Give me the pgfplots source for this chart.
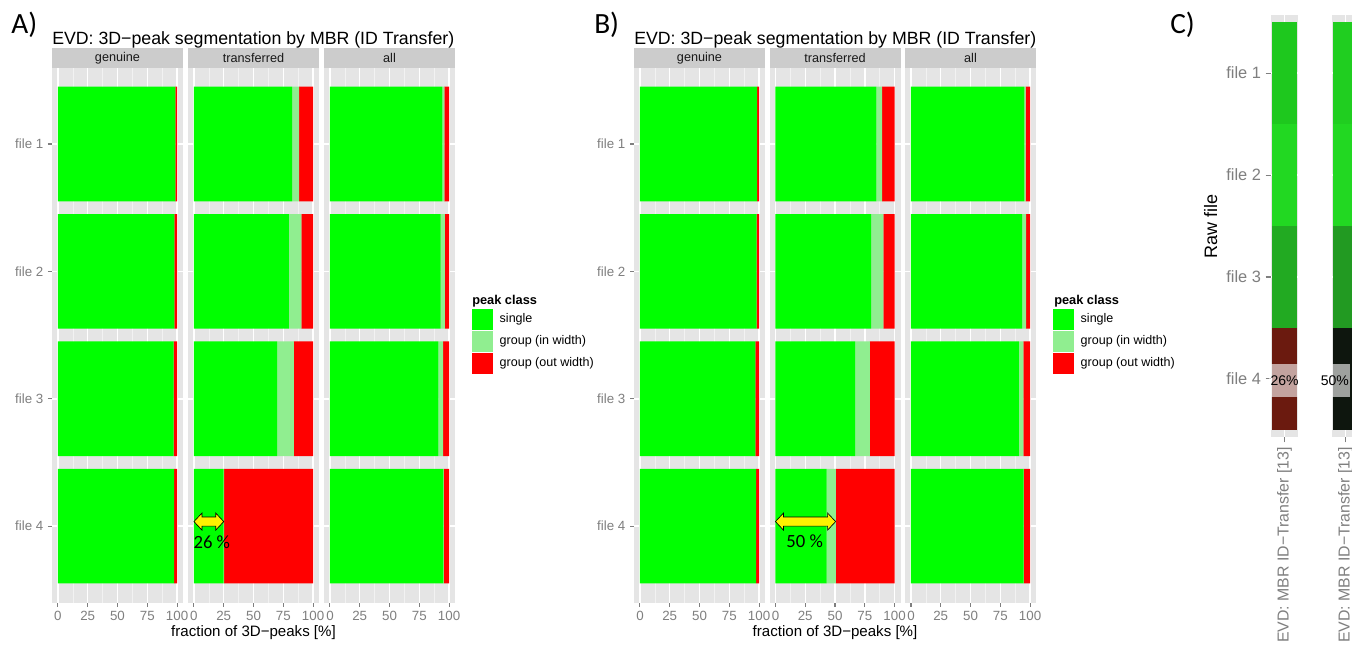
\documentclass[border=0pt]{standalone}
\usepackage{pgfplots}
\pgfplotsset{compat=1.18}
\usepackage{pgfplotstable}
\usetikzlibrary{calc}
\usepackage{fontspec}
\setmainfont{Liberation Sans}
\newfontfamily\calib{Carlito}
\def\uu{0.75pt}
\definecolor{panelbg}{HTML}{E5E5E5}
\definecolor{stripbg}{HTML}{CCCCCC}
\definecolor{gridminor}{HTML}{F2F2F2}
\definecolor{tickgray}{HTML}{7F7F7F}
\definecolor{cSingle}{HTML}{00FF00}
\definecolor{cIn}{HTML}{90EE90}
\definecolor{cOut}{HTML}{FF0000}
\definecolor{ca1}{HTML}{1EC81E}
\definecolor{ca2}{HTML}{22D822}
\definecolor{ca3}{HTML}{22AA22}
\definecolor{ca4}{HTML}{6B1A0F}
\definecolor{cb1}{HTML}{20CE20}
\definecolor{cb2}{HTML}{22D822}
\definecolor{cb3}{HTML}{229A22}
\definecolor{cb4}{HTML}{0E160E}

% y: 4=file 1 ... 1=file 4 ; s=single, i=group (in width), o=group (out width)
\pgfplotstableread{
y s i o
4 98.5 0 1.5
3 97.8 0 2.2
2 97.2 0 2.8
1 97.5 0 2.5
}\AG
\pgfplotstableread{
y s i o
4 82.4 5.9 11.7
3 79.6 10.6 9.8
2 69.8 14.0 16.2
1 25.0 0.3 74.7
}\AT
\pgfplotstableread{
y s i o
4 94.4 1.7 3.9
3 93.0 3.4 3.6
2 91.1 3.9 5.0
1 95.3 0.3 4.4
}\AA
\pgfplotstableread{
y s i o
4 98.3 0 1.7
3 98.0 0 2.0
2 96.9 0 3.1
1 97.5 0 2.5
}\BG
\pgfplotstableread{
y s i o
4 84.8 4.8 10.4
3 80.3 10.4 9.3
2 66.9 12.3 20.8
1 43.0 7.8 49.2
}\BT
\pgfplotstableread{
y s i o
4 95.2 1.1 3.7
3 93.3 3.3 3.4
2 90.7 3.7 5.6
1 94.7 0.2 5.1
}\BA

\pgfplotsset{
  panel/.style={
    anchor=north west, scale only axis, width=131*\uu, height=535*\uu,
    xbar stacked, bar width=0.9,
    xmin=-5, xmax=105, ymin=0.4, ymax=4.6,
    xtick={0,25,50,75,100}, minor xtick={12.5,37.5,62.5,87.5},
    ytick={1,2,3,4}, yticklabels={},
    grid=both,
    major grid style={white, line width=1.1pt},
    minor grid style={gridminor, line width=0.5pt},
    axis line style={draw=none},
    axis background/.style={fill=panelbg},
    tick align=outside, major tick length=3pt, minor tick length=0pt,
    tick pos=left,
    xtick style={tickgray, line width=0.8pt},
    ytick style={draw=none},
    tick label style={font=\fontsize{10}{11}\selectfont, text=tickgray},
    xticklabel style={inner xsep=0.5pt},
    /pgf/number format/assume math mode=true,
  },
  leftpanel/.style={yticklabels={file 4,file 3,file 2,file 1},
    ytick style={draw=tickgray, line width=0.8pt}},
  sqlegend/.style={legend image code/.code={\fill[##1] (0pt,-7.875pt) rectangle (15.75pt,7.875pt);}},
  legpanel/.style={
    legend style={at={(1.13,0.5495)}, anchor=north west, draw=none, fill=none,
      inner sep=0pt, row sep=0.75pt, column sep=4.5pt,
      font=\fontsize{9.4}{10}\selectfont, nodes={inner sep=0.3pt}},
    legend cell align=left},
  cpanel/.style={
    anchor=north west, scale only axis, width=27*\uu, height=422*\uu,
    ybar stacked, bar width=1,
    xmin=0.45, xmax=1.55, ymin=-0.07, ymax=4.07,
    xtick={1}, xticklabels={EVD: MBR ID−Transfer [13]},
    ytick={0.5,1.5,2.5,3.5},
    grid=major, major grid style={white, line width=1.1pt},
    axis line style={draw=none},
    axis background/.style={fill=panelbg},
    tick align=outside, major tick length=4pt, tick pos=left,
    tick style={tickgray, line width=0.8pt},
    yticklabel style={font=\fontsize{12.3}{13}\selectfont, text=tickgray},
    xticklabel style={rotate=90, anchor=east, font=\fontsize{11.9}{13}\selectfont, text=tickgray},
  },
}
\newcommand{\dblarrow}[2]{% #1 left tip, #2 right tip
  \draw[fill=yellow, draw=black, line width=0.5pt]
    (#1) -- ++(6pt,6.4pt) -- ++(0,-3pt) -- ($(#2)+(-6pt,3.4pt)$) -- ++(0,3pt)
    -- (#2) -- ++(-6pt,-6.4pt) -- ++(0,3pt) -- ($(#1)+(6pt,-3.4pt)$) -- ++(0,-3pt) -- cycle;}

\begin{document}
\begin{tikzpicture}
\clip (0,0) rectangle (1352*\uu,-646*\uu);
\fill[white] (0,0) rectangle (1352*\uu,-646*\uu);

% ---------------- Panel A ----------------
\node[anchor=north west, inner sep=0, font=\calib\fontsize{22}{24}\selectfont] at (11*\uu,-12*\uu) {A)};
\node[anchor=base west, inner sep=0, font=\fontsize{13.3}{15}\selectfont] at (52*\uu,-44.5*\uu) {EVD: 3D−peak segmentation by MBR (ID Transfer)};
\fill[stripbg] (52*\uu,-48*\uu) rectangle (183*\uu,-67.6*\uu);
\fill[stripbg] (188*\uu,-48*\uu) rectangle (319*\uu,-67.6*\uu);
\fill[stripbg] (324*\uu,-48*\uu) rectangle (455*\uu,-67.6*\uu);
\node[font=\fontsize{9.5}{10}\selectfont, text=black!90] at (117.5*\uu,-58*\uu) {genuine};
\node[font=\fontsize{9.5}{10}\selectfont, text=black!90] at (253.5*\uu,-58*\uu) {transferred};
\node[font=\fontsize{9.5}{10}\selectfont, text=black!90] at (389.5*\uu,-58*\uu) {all};

\begin{axis}[panel, leftpanel, at={(52*\uu,-67.6*\uu)}]
\addplot[fill=cSingle, draw=none] table[x=s,y=y]{\AG};
\addplot[fill=cIn, draw=none] table[x=i,y=y]{\AG};
\addplot[fill=cOut, draw=none] table[x=o,y=y]{\AG};
\end{axis}
\begin{axis}[panel, at={(188*\uu,-67.6*\uu)}]
\addplot[fill=cSingle, draw=none] table[x=s,y=y]{\AT};
\addplot[fill=cIn, draw=none] table[x=i,y=y]{\AT};
\addplot[fill=cOut, draw=none] table[x=o,y=y]{\AT};
\coordinate (aL) at (axis cs:0,1.036);
\coordinate (aR) at (axis cs:25,1.036);
\coordinate (aT) at (axis cs:15,0.875);
\end{axis}
\dblarrow{aL}{aR}
\node[font=\calib\fontsize{14}{16}\selectfont] at (aT) {26 \%};
\begin{axis}[panel, legpanel, at={(324*\uu,-67.6*\uu)}]
\addplot[fill=cSingle, draw=none, sqlegend] table[x=s,y=y]{\AA};
\addplot[fill=cIn, draw=none, sqlegend] table[x=i,y=y]{\AA};
\addplot[fill=cOut, draw=none, sqlegend] table[x=o,y=y]{\AA};
\legend{single, group (in width), group (out width)}
\end{axis}
\node[anchor=base west, inner sep=0, font=\bfseries\fontsize{9.6}{10}\selectfont] at (472*\uu,-304*\uu) {peak class};
\node[font=\fontsize{11.3}{12}\selectfont] at (253.5*\uu,-633*\uu) {fraction of 3D−peaks [\%]};

% ---------------- Panel B ----------------
\node[anchor=north west, inner sep=0, font=\calib\fontsize{22}{24}\selectfont] at (594*\uu,-12*\uu) {B)};
\node[anchor=base west, inner sep=0, font=\fontsize{13.3}{15}\selectfont] at (634*\uu,-44.5*\uu) {EVD: 3D−peak segmentation by MBR (ID Transfer)};
\fill[stripbg] (634*\uu,-48*\uu) rectangle (765*\uu,-67.6*\uu);
\fill[stripbg] (769.5*\uu,-48*\uu) rectangle (900.5*\uu,-67.6*\uu);
\fill[stripbg] (905*\uu,-48*\uu) rectangle (1036*\uu,-67.6*\uu);
\node[font=\fontsize{9.5}{10}\selectfont, text=black!90] at (699.5*\uu,-58*\uu) {genuine};
\node[font=\fontsize{9.5}{10}\selectfont, text=black!90] at (835*\uu,-58*\uu) {transferred};
\node[font=\fontsize{9.5}{10}\selectfont, text=black!90] at (970.5*\uu,-58*\uu) {all};

\begin{axis}[panel, leftpanel, at={(634*\uu,-67.6*\uu)}]
\addplot[fill=cSingle, draw=none] table[x=s,y=y]{\BG};
\addplot[fill=cIn, draw=none] table[x=i,y=y]{\BG};
\addplot[fill=cOut, draw=none] table[x=o,y=y]{\BG};
\end{axis}
\begin{axis}[panel, at={(769.5*\uu,-67.6*\uu)}]
\addplot[fill=cSingle, draw=none] table[x=s,y=y]{\BT};
\addplot[fill=cIn, draw=none] table[x=i,y=y]{\BT};
\addplot[fill=cOut, draw=none] table[x=o,y=y]{\BT};
\coordinate (bL) at (axis cs:0,1.036);
\coordinate (bR) at (axis cs:50.5,1.036);
\coordinate (bT) at (axis cs:24.5,0.88);
\end{axis}
\dblarrow{bL}{bR}
\node[font=\calib\fontsize{14}{16}\selectfont] at (bT) {50 \%};
\begin{axis}[panel, legpanel, at={(905*\uu,-67.6*\uu)}]
\addplot[fill=cSingle, draw=none, sqlegend] table[x=s,y=y]{\BA};
\addplot[fill=cIn, draw=none, sqlegend] table[x=i,y=y]{\BA};
\addplot[fill=cOut, draw=none, sqlegend] table[x=o,y=y]{\BA};
\legend{single, group (in width), group (out width)}
\end{axis}
\node[anchor=base west, inner sep=0, font=\bfseries\fontsize{9.6}{10}\selectfont] at (1054*\uu,-304*\uu) {peak class};
\node[font=\fontsize{11.3}{12}\selectfont] at (835*\uu,-633*\uu) {fraction of 3D−peaks [\%]};

% ---------------- Panel C ----------------
\node[anchor=north west, inner sep=0, font=\calib\fontsize{22}{24}\selectfont] at (1170*\uu,-12*\uu) {C)};
\begin{axis}[cpanel, at={(1271*\uu,-15*\uu)},
  yticklabels={file 4,file 3,file 2,file 1},
  ylabel={Raw file}, ylabel style={font=\fontsize{13.5}{15}\selectfont}]
\addplot[fill=ca4, draw=none] coordinates {(1,1)};
\addplot[fill=ca3, draw=none] coordinates {(1,1)};
\addplot[fill=ca2, draw=none] coordinates {(1,1)};
\addplot[fill=ca1, draw=none] coordinates {(1,1)};
\coordinate (cA) at (axis cs:1,0.48);
\end{axis}
\node[fill=white, fill opacity=0.6, text opacity=1, inner xsep=1pt, inner ysep=0pt,
  minimum height=24.75pt, font=\fontsize{10.5}{11}\selectfont] at (cA) {26\%};
\begin{axis}[cpanel, at={(1332*\uu,-15*\uu)}, yticklabels={}, ytick style={draw=none}]
\addplot[fill=cb4, draw=none] coordinates {(1,1)};
\addplot[fill=cb3, draw=none] coordinates {(1,1)};
\addplot[fill=cb2, draw=none] coordinates {(1,1)};
\addplot[fill=cb1, draw=none] coordinates {(1,1)};
\coordinate (cB) at (axis cs:1,0.48);
\end{axis}
\node[fill=white, fill opacity=0.6, text opacity=1, inner xsep=1pt, inner ysep=0pt,
  minimum height=24.75pt, font=\fontsize{10.5}{11}\selectfont, xshift=-8pt] at (cB) {50\%};
\end{tikzpicture}
\end{document}
